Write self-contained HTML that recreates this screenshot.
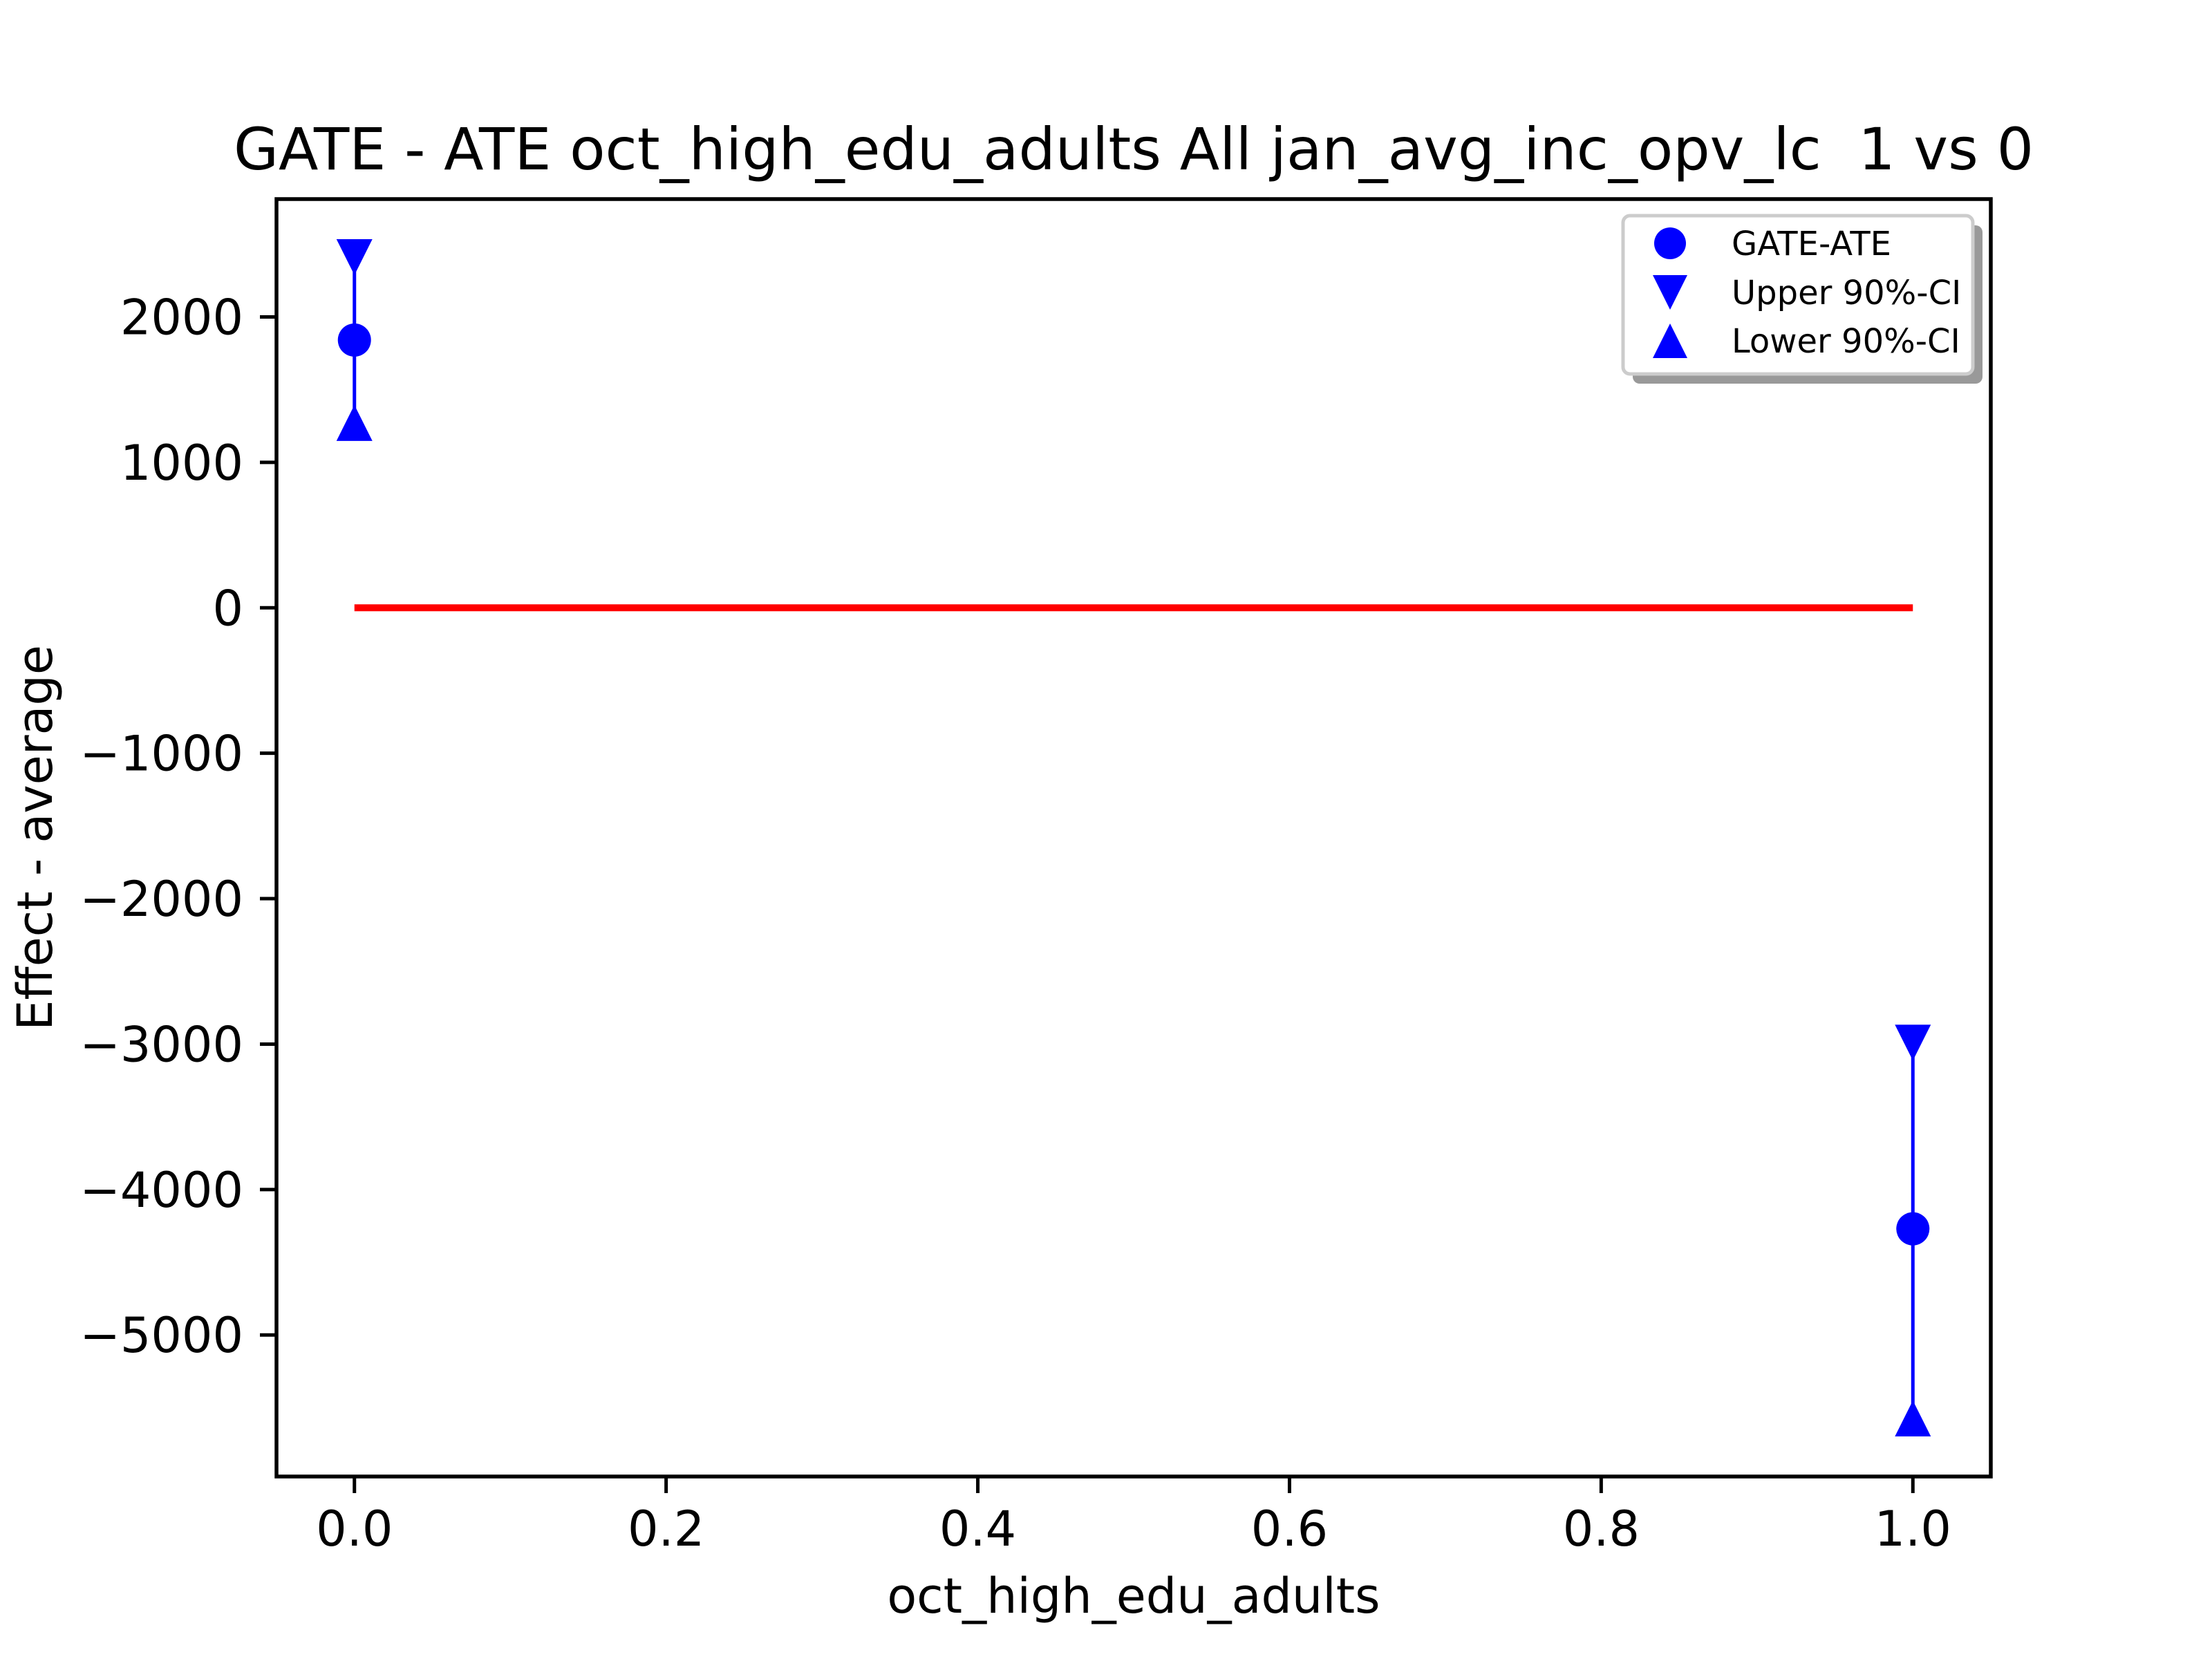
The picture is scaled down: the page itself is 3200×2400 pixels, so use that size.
<!DOCTYPE html>
<html><head><meta charset="utf-8"><style>html,body{margin:0;padding:0;background:#fff}svg{display:block}</style></head>
<body>
<svg id="chart" width="3200" height="2400" viewBox="0 0 3200 2400" xmlns="http://www.w3.org/2000/svg" font-family="DejaVu Sans, Liberation Sans, sans-serif">
<rect width="3200" height="2400" fill="#fff"/>
<g id="plot"></g>
</svg>
<script>
const categories = [0, 1];
const gateValues = [1841, -4270];
const upperCI = [2411, -2990];
const lowerCI = [1271, -5574];
const xTicks = [0.0, 0.2, 0.4, 0.6, 0.8, 1.0];
const xTickLabels = ["0.0", "0.2", "0.4", "0.6", "0.8", "1.0"];
const yTicks = [2000, 1000, 0, -1000, -2000, -3000, -4000, -5000];
const yTickLabels = ["2000", "1000", "0", "\u22121000", "\u22122000", "\u22123000", "\u22124000", "\u22125000"];

const NS = "http://www.w3.org/2000/svg";
const L = 400, R = 2880, T = 288, B = 2136;
const xMin = -0.05, xMax = 1.05;
const allY = gateValues.concat(upperCI, lowerCI);
const dMax = Math.max(...allY), dMin = Math.min(...allY);
const pad = (dMax - dMin) * 0.05;
const yMin = dMin - pad, yMax = dMax + pad;
const xs = v => L + (v - xMin) / (xMax - xMin) * (R - L);
const ys = v => B - (v - yMin) / (yMax - yMin) * (B - T);
const g = document.getElementById('plot');
function mk(tag, attrs, parent) {
  const e = document.createElementNS(NS, tag);
  for (const k in attrs) e.setAttribute(k, attrs[k]);
  (parent || g).appendChild(e);
  return e;
}
function tri(cx, cy, s, down) {
  const h = s * 0.5;
  return down ? `${cx-h},${cy-h} ${cx+h},${cy-h} ${cx},${cy+h}` : `${cx-h},${cy+h} ${cx+h},${cy+h} ${cx},${cy-h}`;
}

let zl = mk('line', {x1: xs(0), x2: xs(1), y1: ys(0), y2: ys(0), stroke: '#ff0000', 'stroke-width': 10});



categories.forEach((c, i) => {
  const x = xs(c);
  let el = mk('line', {x1: x, x2: x, y1: ys(upperCI[i]), y2: ys(lowerCI[i]), stroke: '#0000ff', 'stroke-width': 5});
  
  
  let u = mk('polygon', {points: tri(x, ys(upperCI[i]), 52, true), fill: '#0000ff'});
  
  
  let lo = mk('polygon', {points: tri(x, ys(lowerCI[i]), 52, false), fill: '#0000ff'});
  
  
  let p = mk('circle', {cx: x, cy: ys(gateValues[i]), r: 24, fill: '#0000ff'});
  
  
});

let fr = mk('rect', {x: L, y: T, width: R - L, height: B - T, fill: 'none', stroke: '#000', 'stroke-width': 5.5});



xTicks.forEach((v, i) => {
  const x = xs(v);
  let t = mk('line', {x1: x, x2: x, y1: B, y2: B + 24, stroke: '#000', 'stroke-width': 5});
  
  
  let tx = mk('text', {x: x, y: B + 100, 'font-size': 70, 'text-anchor': 'middle', fill: '#000'});
  tx.textContent = xTickLabels[i];
  
  
});
yTicks.forEach((v, i) => {
  const y = ys(v);
  let t = mk('line', {x1: L - 24, x2: L, y1: y, y2: y, stroke: '#000', 'stroke-width': 5});
  
  
  let tx = mk('text', {x: L - 48, y: y + 25, 'font-size': 70, 'text-anchor': 'end', fill: '#000'});
  tx.textContent = yTickLabels[i];
  
  
});

let ti = mk('text', {x: (L + R) / 2, y: 245, 'font-size': 84, 'text-anchor': 'middle', fill: '#000'});
ti.textContent = 'GATE - ATE oct_high_edu_adults All jan_avg_inc_opv_lc \u00a01 vs 0';


let xl = mk('text', {x: (L + R) / 2, y: 2333, 'font-size': 70, 'text-anchor': 'middle', fill: '#000'});
xl.textContent = 'oct_high_edu_adults';


let yl = mk('text', {x: 0, y: 0, 'font-size': 70, 'text-anchor': 'middle', fill: '#000', transform: `translate(75,${(T + B) / 2}) rotate(-90)`});
yl.textContent = 'Effect - average';



const lg = mk('g', {});


mk('rect', {x: 2362, y: 326, width: 506, height: 229, rx: 10, fill: '#999'}, lg);
mk('rect', {x: 2348, y: 312, width: 506, height: 229, rx: 10, fill: '#fff', stroke: '#ccc', 'stroke-width': 5}, lg);
const lgLabels = ['GATE-ATE', 'Upper 90%-CI', 'Lower 90%-CI'];
const rows = [352, 423, 493];
let c0 = mk('circle', {cx: 2416, cy: rows[0], r: 23, fill: '#0000ff'}, lg);


let c1 = mk('polygon', {points: tri(2416, rows[1], 50, true), fill: '#0000ff'}, lg);


let c2 = mk('polygon', {points: tri(2416, rows[2], 50, false), fill: '#0000ff'}, lg);


lgLabels.forEach((s, i) => {
  let t = mk('text', {x: 2505, y: rows[i] + 17, 'font-size': 48, fill: '#000'}, lg);
  t.textContent = s;
  
  
});
</script>
</body></html>
